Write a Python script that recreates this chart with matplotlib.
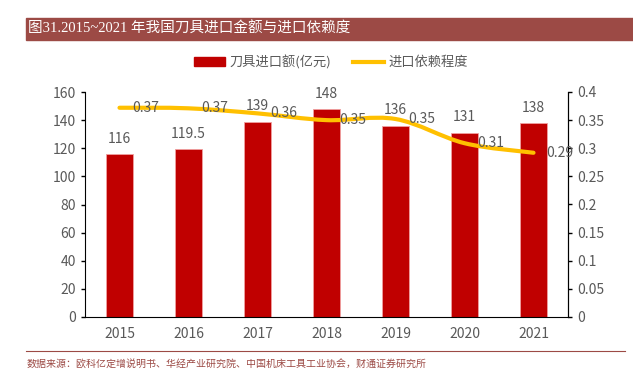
import matplotlib.pyplot as plt
from matplotlib.path import Path
from matplotlib.patches import PathPatch, Rectangle
from matplotlib.lines import Line2D
import numpy as np

plt.rcParams['font.family'] = ['Noto Sans CJK SC', 'DejaVu Sans']

# data
years = ['2015', '2016', '2017', '2018', '2019', '2020', '2021']
import_value = [116, 119.5, 139, 148, 136, 131, 138]
dependency = [0.372, 0.371, 0.362, 0.350, 0.352, 0.309, 0.292]
dep_labels = ['0.37', '0.37', '0.36', '0.35', '0.35', '0.31', '0.29']

title = '图31.2015~2021 年我国刀具进口金额与进口依赖度'
source = '数据来源：欧科亿定增说明书、华经产业研究院、中国机床工具工业协会，财通证券研究所'
bar_name = '刀具进口额(亿元)'
line_name = '进口依赖程度'

RED = '#C00000'
GOLD = '#FFC000'
GRAY = '#595959'
BRICK = '#9C4A45'

fig = plt.figure(figsize=(6.33, 3.71), dpi=100)
ax = fig.add_axes([85 / 633, 54 / 371, 483 / 633, 225 / 371])
ax2 = ax.twinx()

x = np.arange(len(years))
ax.bar(x, import_value, width=0.4, color=RED, edgecolor='#F0A0A0', linewidth=0.6, zorder=2)
for xi, v in zip(x, import_value):
    ax.annotate(f'{v:g}', (xi, v), xytext=(0, 6), textcoords='offset points',
                ha='center', va='bottom', fontsize=10, color=GRAY)

ax.set_xlim(-0.5, len(years) - 0.5)
ax.set_ylim(0, 160)
ax.set_yticks(range(0, 161, 20))
ax.set_xticks(x)
ax.set_xticklabels(years)
ax2.set_ylim(0, 0.4)
ax2.set_yticks(np.arange(0, 0.41, 0.05))
ax2.set_yticklabels(['0', '0.05', '0.1', '0.15', '0.2', '0.25', '0.3', '0.35', '0.4'])

# smooth line: bezier segments through the data points (Catmull-Rom style)
pts = np.column_stack([x, dependency])
verts = [pts[0]]
codes = [Path.MOVETO]
for i in range(len(pts) - 1):
    p0 = pts[i - 1] if i > 0 else pts[i]
    p1, p2 = pts[i], pts[i + 1]
    p3 = pts[i + 2] if i + 2 < len(pts) else pts[i + 1]
    c1 = p1 + (p2 - p0) / 6
    c2 = p2 - (p3 - p1) / 6
    verts += [c1, c2, p2]
    codes += [Path.CURVE4] * 3
ax2.add_patch(PathPatch(Path(verts, codes), facecolor='none', edgecolor=GOLD,
                        lw=3, capstyle='round', zorder=3))
for xi, v, lab in zip(x, dependency, dep_labels):
    ax2.annotate(lab, (xi, v), xytext=(9, 0), textcoords='offset points',
                 ha='left', va='center', fontsize=10, color=GRAY)

for a in (ax, ax2):
    a.spines['top'].set_visible(False)
    a.tick_params(labelsize=10, labelcolor=GRAY, length=3, width=1, color='black')
ax.spines['left'].set_color('black')
ax.spines['bottom'].set_color('black')
ax2.spines['right'].set_color('black')
ax2.spines['left'].set_visible(False)
ax2.spines['bottom'].set_visible(False)
ax.tick_params(axis='x', length=0, pad=7)

# legend
handles = [Rectangle((0, 0), 1, 1, color=RED),
           Line2D([0], [0], color=GOLD, lw=3)]
fig.legend(handles, [bar_name, line_name], loc='center', bbox_to_anchor=(331 / 633, 1 - 62 / 371),
           ncol=2, frameon=False, fontsize=9.5, labelcolor=GRAY,
           handlelength=2.4, handleheight=0.6, columnspacing=1.6, handletextpad=0.35)

# title bar
fig.patches.append(Rectangle((26 / 633, 1 - 40 / 371), 1 - 26 / 633, 22 / 371,
                             transform=fig.transFigure, color=BRICK, zorder=0))
fig.text(28 / 633, 1 - 29 / 371, title, color='white', fontsize=10.5, va='center', ha='left',
         family=['Liberation Serif', 'Noto Sans CJK SC'])

# footer
fig.add_artist(Line2D([26 / 633, 625 / 633], [1 - 351 / 371] * 2, color=BRICK, lw=0.8))
fig.text(27 / 633, 1 - 365 / 371, source, color=BRICK, fontsize=7.2, va='center', ha='left')

fig.savefig('out.png', dpi=100)
